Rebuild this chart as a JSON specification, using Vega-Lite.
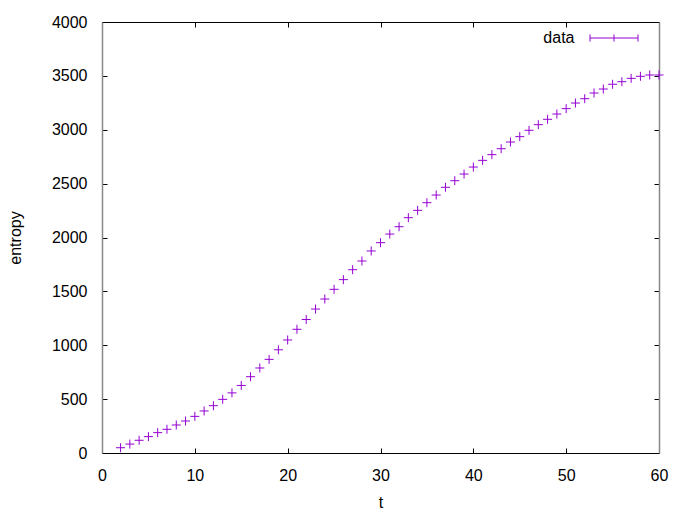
{
  "$schema": "https://vega.github.io/schema/vega-lite/v6.json",
  "width": 557,
  "height": 431,
  "autosize": {"type": "none"},
  "padding": {"left": 102, "top": 22, "right": 33, "bottom": 66},
  "background": "white",
  "config": {
    "view": {"stroke": null},
    "font": "Liberation Sans",
    "axis": {
      "labelFont": "Liberation Sans",
      "titleFont": "Liberation Sans",
      "labelFontSize": 16,
      "titleFontSize": 16,
      "labelColor": "#000000",
      "titleColor": "#000000",
      "titleFontWeight": "normal",
      "grid": false,
      "tickColor": "#000000",
      "tickSize": -5,
      "tickWidth": 1,
      "labelFlush": false,
      "format": "d"
    }
  },
  "data": {
    "values": [
      {"t": 2, "entropy": 49},
      {"t": 3, "entropy": 83},
      {"t": 4, "entropy": 118},
      {"t": 5, "entropy": 152},
      {"t": 6, "entropy": 189},
      {"t": 7, "entropy": 220},
      {"t": 8, "entropy": 260},
      {"t": 9, "entropy": 297},
      {"t": 10, "entropy": 340},
      {"t": 11, "entropy": 390},
      {"t": 12, "entropy": 439},
      {"t": 13, "entropy": 498},
      {"t": 14, "entropy": 558},
      {"t": 15, "entropy": 627},
      {"t": 16, "entropy": 708},
      {"t": 17, "entropy": 789},
      {"t": 18, "entropy": 869},
      {"t": 19, "entropy": 958},
      {"t": 20, "entropy": 1049},
      {"t": 21, "entropy": 1148},
      {"t": 22, "entropy": 1239},
      {"t": 23, "entropy": 1336},
      {"t": 24, "entropy": 1429},
      {"t": 25, "entropy": 1519},
      {"t": 26, "entropy": 1609},
      {"t": 27, "entropy": 1701},
      {"t": 28, "entropy": 1782},
      {"t": 29, "entropy": 1875},
      {"t": 30, "entropy": 1952},
      {"t": 31, "entropy": 2032},
      {"t": 32, "entropy": 2100},
      {"t": 33, "entropy": 2184},
      {"t": 34, "entropy": 2252},
      {"t": 35, "entropy": 2323},
      {"t": 36, "entropy": 2394},
      {"t": 37, "entropy": 2466},
      {"t": 38, "entropy": 2527},
      {"t": 39, "entropy": 2589},
      {"t": 40, "entropy": 2654},
      {"t": 41, "entropy": 2716},
      {"t": 42, "entropy": 2769},
      {"t": 43, "entropy": 2824},
      {"t": 44, "entropy": 2886},
      {"t": 45, "entropy": 2936},
      {"t": 46, "entropy": 2995},
      {"t": 47, "entropy": 3047},
      {"t": 48, "entropy": 3097},
      {"t": 49, "entropy": 3146},
      {"t": 50, "entropy": 3196},
      {"t": 51, "entropy": 3248},
      {"t": 52, "entropy": 3288},
      {"t": 53, "entropy": 3341},
      {"t": 54, "entropy": 3378},
      {"t": 55, "entropy": 3422},
      {"t": 56, "entropy": 3446},
      {"t": 57, "entropy": 3477},
      {"t": 58, "entropy": 3496},
      {"t": 59, "entropy": 3508},
      {"t": 60, "entropy": 3508}
    ]
  },
  "resolve": {"axis": {"x": "independent", "y": "independent"}},
  "layer": [
    {
      "mark": {
        "type": "point",
        "shape": "M-1,0L1,0M0,-1L0,1",
        "filled": false,
        "size": 81,
        "strokeWidth": 1,
        "opacity": 1
      },
      "encoding": {
        "x": {
          "field": "t",
          "type": "quantitative",
          "scale": {"domain": [0, 60], "nice": false, "zero": false, "padding": 0},
          "axis": {
            "orient": "bottom",
            "values": [0, 10, 20, 30, 40, 50, 60],
            "title": "t",
            "titlePadding": 11,
            "labelPadding": 19,
            "domainColor": "#000000",
            "domainWidth": 1
          }
        },
        "y": {
          "field": "entropy",
          "type": "quantitative",
          "scale": {"domain": [0, 4000], "nice": false, "padding": 0},
          "axis": {
            "orient": "left",
            "values": [0, 500, 1000, 1500, 2000, 2500, 3000, 3500, 4000],
            "title": "entropy",
            "titlePadding": 28,
            "labelPadding": 20,
            "domainColor": "#888888",
            "domainWidth": 1.5
          }
        },
        "color": {
          "datum": "data",
          "type": "nominal",
          "scale": {"range": ["#9400d3"]},
          "legend": {
            "title": null,
            "orient": "none",
            "legendX": 487.5,
            "legendY": -8.5,
            "padding": 0,
            "symbolType": "M-1,0L1,0M-1,-0.15L-1,0.15M1,-0.15L1,0.15M0,-0.15L0,0.15",
            "symbolSize": 2304,
            "symbolStrokeWidth": 1,
            "symbolFillColor": "transparent",
            "symbolStrokeColor": "#9400d3",
            "symbolOpacity": 1,
            "labelAlign": "right",
            "labelOffset": -64,
            "labelFontSize": 16,
            "labelFont": "Liberation Sans",
            "labelColor": "#000000",
            "encode": {
              "symbols": {"update": {"stroke": {"value": "#9400d3"}, "opacity": {"value": 1}}}
            }
          }
        }
      }
    },
    {
      "mark": {"type": "point", "opacity": 0, "size": 1},
      "encoding": {
        "x": {
          "field": "t",
          "type": "quantitative",
          "scale": {"domain": [0, 60], "nice": false, "zero": false, "padding": 0},
          "axis": {
            "orient": "top",
            "values": [0, 10, 20, 30, 40, 50, 60],
            "title": null,
            "labels": false,
            "domainColor": "#000000",
            "domainWidth": 1
          }
        },
        "y": {
          "field": "entropy",
          "type": "quantitative",
          "scale": {"domain": [0, 4000], "nice": false, "padding": 0},
          "axis": {
            "orient": "right",
            "values": [0, 500, 1000, 1500, 2000, 2500, 3000, 3500, 4000],
            "title": null,
            "labels": false,
            "domainColor": "#888888",
            "domainWidth": 1.5
          }
        }
      }
    }
  ]
}
